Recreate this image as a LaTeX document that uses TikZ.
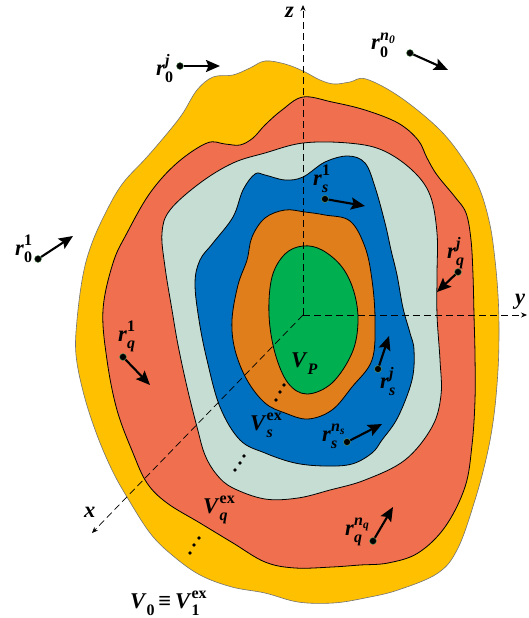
\documentclass[tikz,border=0pt]{standalone}
\usepackage{fontspec}
\setmainfont{Liberation Serif}
\usetikzlibrary{arrows.meta}
\definecolor{cY}{HTML}{FFC000}
\definecolor{cR}{HTML}{EF6F4E}
\definecolor{cP}{HTML}{C5DDD2}
\definecolor{cB}{HTML}{0070C0}
\definecolor{cO}{HTML}{DF7E1A}
\definecolor{cG}{HTML}{00B050}
\newcommand\vv[1]{\textbf{\textit{#1}}}
\newcommand\smallb{\fontsize{16}{16}\selectfont\bfseries}
\newcommand\tinyb{\fontsize{11.5}{11.5}\selectfont\bfseries\itshape}
\newcommand\up[1]{\raisebox{0.42em}{\smallb #1}}
\newcommand\dn[1]{\raisebox{-0.32em}{\smallb #1}}
\newcommand\rr[2]{\vv{r}\makebox[0pt][l]{\up{#2}}\dn{#1}}
\newcommand\ii[1]{\textit{#1}}
\tikzset{
 region/.style={draw=black,line width=0.8pt},
 outer/.style={draw=black!55,line width=0.6pt,fill=cY},
 lbl/.style={anchor=base west,inner sep=0pt,font=\fontsize{22.5}{22.5}\selectfont},
 pt/.style={circle,fill=black,draw=black!60!green!60,line width=0.4pt,inner sep=0pt,minimum size=7pt},
 vec/.style={-{Stealth[length=14pt,width=12pt,inset=2.5pt]},line width=2.1pt,black},
 axis/.style={dashed,dash pattern=on 7pt off 4pt,line width=0.7pt,-{Stealth[length=6pt,width=5pt]}},
 dotm/.style={circle,fill=black,inner sep=0pt,minimum size=3.6pt}
}
\begin{document}
\begin{tikzpicture}[x=1pt,y=-1pt]
\useasboundingbox (0,0) rectangle (529,618);
\draw[outer] plot[smooth cycle,tension=0.6] coordinates {(265,61)(285,64)(303,71)(320,80)(334,84)(350,82)(366,79)(400,97)(440,130)(465,162)(480,190)(490,225)(495,260)(498,295)(499,330)(498,370)(494,415)(487,455)(475,500)(458,548)(438,573)(398,590)(365,598)(333,603)(298,602)(265,593)(232,587)(200,575)(172,555)(150,533)(127,497)(112,470)(97,435)(84,395)(76,355)(77,320)(83,275)(92,243)(107,210)(123,183)(147,157)(170,130)(183,113)(197,90)(213,77)(233,75)(250,68)};
\draw[region,fill=cR] plot[smooth cycle,tension=0.6] coordinates {(265,125)(282,110)(303,97)(332,102)(365,110)(398,123)(418,140)(427,158)(437,175)(455,197)(466,213)(471,240)(473,275)(474,315)(475,355)(475,400)(472,445)(465,487)(445,527)(418,553)(388,563)(360,565)(332,567)(295,568)(265,562)(233,543)(200,523)(167,503)(147,483)(133,453)(117,410)(107,360)(103,310)(113,263)(127,233)(150,193)(177,163)(207,143)(225,144)(240,145)(253,138)};
\draw[region,fill=cP] plot[smooth cycle,tension=0.6] coordinates {(265,153)(303,143)(348,143)(382,150)(412,170)(430,195)(437,233)(437,275)(437,315)(440,360)(441,395)(432,427)(405,460)(365,480)(330,490)(298,498)(265,499)(233,488)(217,475)(205,455)(197,427)(187,387)(178,345)(172,310)(165,267)(162,233)(170,210)(200,183)(233,163)};
\draw[region,fill=cB] plot[smooth cycle,tension=0.6] coordinates {(265,175)(285,180)(303,177)(325,162)(348,156)(365,163)(375,187)(385,223)(391,250)(397,275)(403,308)(410,333)(414,350)(412,380)(398,417)(382,440)(372,453)(352,464)(325,466)(295,463)(265,453)(240,440)(220,407)(207,360)(199,320)(195,283)(200,260)(213,243)(233,217)(243,190)(255,174)};
\draw[region,fill=cO] plot[smooth cycle,tension=0.6] coordinates {(265,218)(285,210)(305,212)(325,215)(350,221)(365,247)(372,280)(375,320)(372,360)(352,387)(332,410)(308,419)(285,413)(265,403)(247,380)(235,350)(232,320)(238,285)(247,260)(252,237)};
\draw[region,fill=cG] plot[smooth cycle,tension=0.6] coordinates {(303,246)(322,250)(342,267)(354,292)(358,322)(352,353)(332,383)(307,394)(288,383)(275,353)(269,315)(272,277)(285,254)};
% axes
\coordinate (O) at (303,315);
\coordinate (zend) at (303,5);
\coordinate (yend) at (527,315);
\coordinate (xend) at (92,533);
\draw[axis] (O) -- (zend);
\draw[axis] (O) -- (yend);
\draw[axis] (O) -- (xend);
\node[lbl] (lz) at (285,18) {\vv{z}};
\node[lbl] (ly) at (515,304) {\vv{y}};
\node[lbl] (lx) at (84,517) {\vv{x}};
% vectors
\node[pt] (a1) at (180,66) {}; \coordinate (a2) at (220,66);
\node[pt] (b1) at (38,259) {}; \coordinate (b2) at (73,236);
\node[pt] (c1) at (410,53) {}; \coordinate (c2) at (448,70);
\node[pt] (d1) at (325,199) {}; \coordinate (d2) at (365,206);
\node[pt] (e1) at (458,272) {}; \coordinate (e2) at (437,292);
\node[pt] (f1) at (123,357) {}; \coordinate (f2) at (150,385);
\node[pt] (g1) at (378,369) {}; \coordinate (g2) at (389,336);
\node[pt] (h1) at (347,442) {}; \coordinate (h2) at (382,424);
\node[pt] (k1) at (373,541) {}; \coordinate (k2) at (393,507);
\foreach \p/\q in {a1/a2,b1/b2,c1/c2,d1/d2,e1/e2,f1/f2,g1/g2,h1/h2,k1/k2}
  \draw[vec] (\p) -- (\q);
% labels
\node[lbl] (la) at (156,75) {\rr{0}{\ii{j}}};
\node[lbl] (lb) at (15,255) {\rr{0}{1}};
\node[lbl] (lc) at (371,50) {\rr{0}{\ii{n}\raisebox{-0.2em}{\tinyb 0}}};
\node[lbl] (ld) at (313,185) {\rr{\ii{s}}{1}};
\node[lbl] (le) at (447,258) {\rr{\ii{q}}{\ii{j}}};
\node[lbl] (lf) at (118,341) {\rr{\ii{q}}{1}};
\node[lbl] (lg) at (380,388) {\rr{\ii{s}}{\ii{j}}};
\node[lbl] (lh) at (322,441) {\rr{\ii{s}}{\ii{n}\raisebox{-0.2em}{\tinyb s}}};
\node[lbl] (lk) at (345,535) {\rr{\ii{q}}{\ii{n}\raisebox{-0.2em}{\tinyb q}}};
\node[lbl] (vp) at (291,367) {\vv{V}\dn{\ii{P}}};
\node[lbl] (vs) at (250,430) {\vv{V}\makebox[0pt][l]{\up{ex}}\dn{\ii{s}}};
\node[lbl] (vq) at (203,513) {\vv{V}\makebox[0pt][l]{\up{ex}}\dn{\ii{q}}};
\node[lbl] (v0) at (130,608) {\vv{V}\dn{0}\,\textbf{≡}\,\vv{V}\makebox[0pt][l]{\up{ex}}\dn{1}};
% ellipsis dots
\foreach \n/\x/\y in {p1/284/385,p2/280/392,p3/276/400,p4/244/456,p5/240/463,p6/235/470,p7/199/538,p8/194/545,p9/190/553}
  \node[dotm] (\n) at (\x,\y) {};
\end{tikzpicture}
\end{document}
